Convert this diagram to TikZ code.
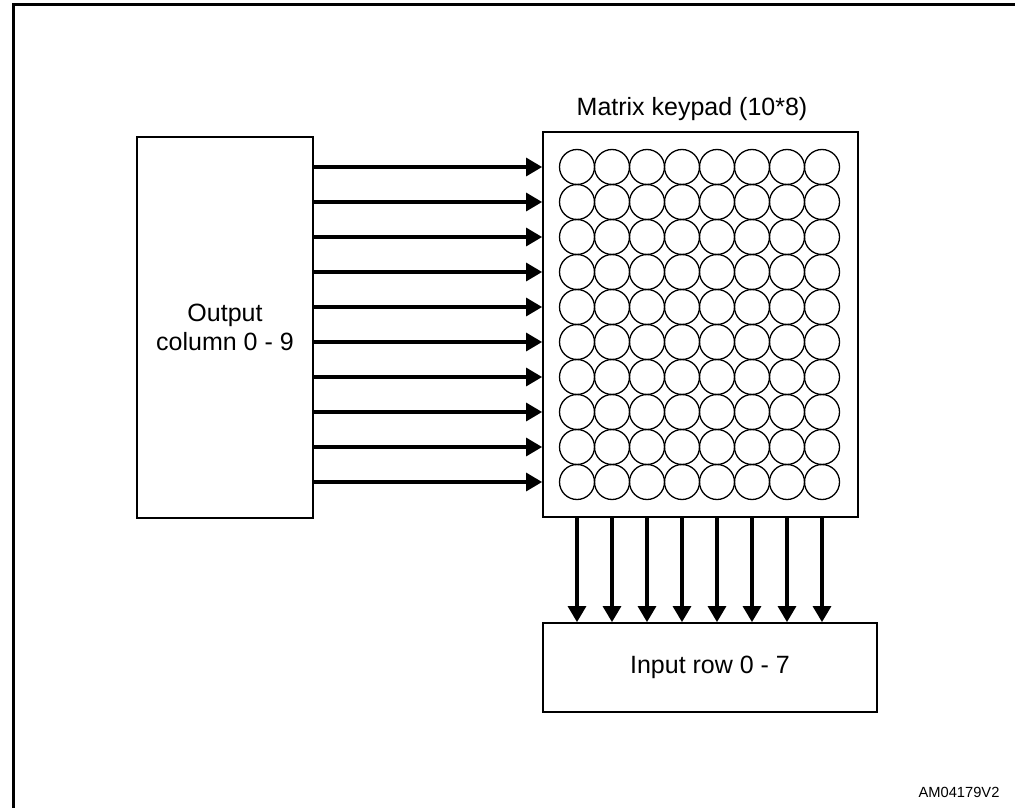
\documentclass[tikz,border=0pt]{standalone}
\usepackage{fontspec}
\setmainfont{Liberation Sans}
\usetikzlibrary{positioning,arrows.meta}

\tikzset{
  box/.style={draw, line width=1.8pt, inner sep=0pt},
  button/.style={draw, circle, line width=1.3pt, minimum size=35pt, inner sep=0pt},
  sig/.style={line width=3.2pt, -{Triangle[length=16pt,width=18pt]}},
  lbl/.style={font=\fontsize{25}{29}\selectfont, align=center},
}

\begin{document}
\begin{tikzpicture}[x=1pt,y=-1pt]
    \useasboundingbox (0,0) rectangle (1015,808);
    \draw[line width=3pt] (13,812) -- (13,5) -- (1018,5);

    \node[box, lbl, minimum width=176pt, minimum height=381pt] (out) at (225,327.5) {Output\\column 0 - 9};
    \node[box, minimum width=315pt, minimum height=385pt] (pad) at (700.5,324.5) {};
    \node[box, lbl, minimum width=334pt, minimum height=89pt] (in) at (710,667.5) {Input row 0 - 7};
    \node[lbl, anchor=base] (title) at (692,115) {Matrix keypad (10*8)};
    \node[font=\fontsize{14.7}{17}\selectfont, anchor=base east] (code) at (1003,797) {AM04179V2};

    \foreach \r in {1,...,10}
      \foreach \c in {1,...,8}
        \node[button] (k-\r-\c) at ({577+35*(\c-1)},{167+35*(\r-1)}) {};

    \foreach \r in {1,...,10}
      \draw[sig] (out.east |- k-\r-1) -- (pad.west |- k-\r-1);
    \foreach \c in {1,...,8}
      \draw[sig] (pad.south -| k-10-\c) -- (in.north -| k-10-\c);
\end{tikzpicture}
\end{document}
